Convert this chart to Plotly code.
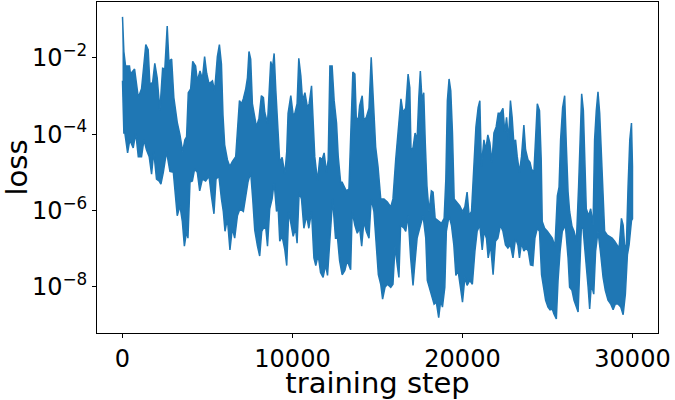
import plotly.graph_objects as go

upper_step = [0, 80, 180, 410, 470, 710, 930, 1120, 1370, 1510, 1610, 1770, 1900, 2040, 2200,
              2360, 2490, 2630, 2730, 2890, 3020, 3220, 3380, 3540, 3670, 3770, 3870, 4010, 4130,
              4300, 4400, 4560, 4700, 4830, 4950, 5090, 5290, 5420, 5580, 5700, 5820, 5910, 6010,
              6170, 6310, 6460, 6660, 6790, 6880, 7000, 7110, 7250, 7350, 7440, 7540, 7640, 7740,
              7880, 8030, 8170, 8290, 8370, 8530, 8650, 8720, 8820, 8920, 9020, 9150, 9250, 9390,
              9550, 9660, 9740, 9900, 10040, 10140, 10270, 10370, 10490, 10590, 10730, 10880,
              10980, 11120, 11210, 11310, 11470, 11610, 11740, 11860, 12000, 12100, 12200, 12330,
              12450, 12590, 12690, 12830, 12920, 13020, 13160, 13320, 13450, 13550, 13670, 13750,
              13870, 13950, 14100, 14200, 14340, 14500, 14630, 14750, 14890, 15030, 15190, 15380,
              15580, 15780, 15910, 16070, 16220, 16380, 16500, 16660, 16800, 16900, 16970, 17090,
              17210, 17330, 17430, 17520, 17620, 17720, 17810, 17910, 18030, 18170, 18270, 18390,
              18560, 18760, 18920, 19020, 19110, 19210, 19310, 19410, 19510, 19640, 19840, 20000,
              20140, 20270, 20390, 20530, 20680, 20790, 20920, 21020, 21110, 21260, 21370, 21490,
              21610, 21730, 21850, 21980, 22100, 22230, 22380, 22490, 22590, 22710, 22820, 22920,
              23020, 23120, 23220, 23350, 23470, 23610, 23710, 23850, 23970, 24060, 24200, 24300,
              24400, 24530, 24630, 24690, 24830, 24990, 25150, 25280, 25440, 25580, 25680, 25770,
              25890, 26010, 26110, 26210, 26300, 26440, 26560, 26700, 26830, 26930, 27010, 27110,
              27180, 27280, 27420, 27540, 27680, 27770, 27870, 27970, 28070, 28170, 28270, 28360,
              28520, 28660, 28800, 28950, 29090, 29210, 29350, 29450, 29540, 29640, 29740, 29840,
              29940, 29999]
upper_log = [-0.92, -1.83, -2.21, -2.21, -2.42, -2.29, -3.04, -2.81, -1.65, -1.78, -2.68, -2.65,
             -2.14, -2.52, -3.38, -2.27, -2.29, -1.16, -2.09, -2.03, -3.04, -3.69, -4.02, -4.46,
             -4.15, -4.07, -2.91, -2.81, -2.09, -2.21, -2.60, -2.34, -2.55, -1.96, -2.40, -2.68,
             -2.60, -2.86, -1.96, -1.65, -2.16, -3.50, -4.28, -4.67, -4.85, -4.72, -4.59, -3.81,
             -3.12, -3.20, -3.07, -2.81, -2.52, -1.83, -2.03, -3.20, -3.45, -3.81, -3.58, -2.99,
             -3.04, -3.43, -3.71, -2.78, -2.09, -2.27, -1.88, -2.86, -4.07, -4.74, -4.61, -5.05,
             -4.46, -3.45, -2.99, -3.50, -3.45, -3.20, -2.01, -2.47, -3.12, -2.91, -3.30, -3.20,
             -2.73, -3.45, -4.59, -5.23, -4.61, -4.67, -4.49, -5.00, -4.67, -2.21, -2.21, -3.12,
             -3.71, -4.59, -5.26, -5.26, -5.36, -5.49, -5.44, -3.45, -2.37, -2.42, -3.56, -3.63,
             -3.25, -2.99, -3.63, -3.56, -3.32, -1.98, -3.12, -4.33, -4.85, -5.70, -5.70, -5.78,
             -5.91, -5.70, -4.67, -3.97, -3.07, -3.43, -3.32, -2.42, -2.78, -4.41, -4.36, -3.97,
             -4.15, -3.04, -2.34, -3.12, -2.91, -4.23, -5.36, -6.03, -5.49, -5.52, -6.21, -6.27,
             -6.34, -6.21, -5.18, -3.12, -2.55, -2.86, -3.97, -5.70, -5.78, -5.88, -6.03, -5.91,
             -5.52, -6.14, -6.03, -4.85, -3.81, -3.30, -3.12, -4.85, -4.15, -4.41, -4.02, -4.23,
             -4.74, -3.97, -3.81, -3.45, -3.45, -3.32, -3.97, -3.56, -4.15, -3.12, -3.56, -4.23,
             -4.15, -4.59, -5.00, -4.59, -3.76, -4.41, -4.67, -4.74, -4.92, -5.00, -3.89, -3.20,
             -3.38, -4.67, -6.29, -6.47, -6.55, -6.65, -6.73, -6.94, -5.62, -5.39, -4.15, -3.30,
             -2.99, -4.33, -5.52, -6.03, -6.42, -6.55, -6.81, -5.36, -3.97, -2.94, -3.38, -4.41,
             -5.96, -6.14, -5.96, -6.39, -4.15, -3.38, -2.89, -3.45, -4.49, -5.70, -6.55, -6.65,
             -6.68, -6.73, -6.81, -6.91, -6.99, -6.21, -6.39, -6.94, -6.91, -5.36, -4.15, -3.71,
             -4.85]

lower_step = [0, 80, 140, 300, 430, 630, 780, 930, 1120, 1260, 1410, 1570, 1710, 1840, 2000,
              2160, 2260, 2400, 2590, 2790, 2990, 3140, 3220, 3380, 3520, 3640, 3770, 3850, 3970,
              4110, 4240, 4400, 4540, 4700, 4890, 5090, 5230, 5380, 5500, 5670, 5820, 5930, 6030,
              6170, 6320, 6460, 6600, 6760, 6910, 7110, 7250, 7380, 7540, 7660, 7780, 7940, 8070,
              8190, 8290, 8430, 8530, 8660, 8800, 8920, 9060, 9150, 9250, 9390, 9550, 9660, 9780,
              9900, 10040, 10180, 10270, 10390, 10530, 10670, 10830, 10960, 11120, 11260, 11370,
              11510, 11650, 11800, 11950, 12060, 12200, 12360, 12530, 12650, 12770, 12920, 13080,
              13220, 13420, 13510, 13670, 13810, 13950, 14070, 14200, 14340, 14500, 14630, 14790,
              14950, 15050, 15190, 15300, 15440, 15580, 15780, 15910, 16030, 16160, 16260, 16360,
              16560, 16660, 16800, 16950, 17090, 17190, 17330, 17480, 17680, 17840, 17930, 18070,
              18210, 18330, 18460, 18600, 18720, 18820, 18960, 19050, 19210, 19350, 19490, 19610,
              19740, 19880, 20000, 20140, 20270, 20430, 20580, 20730, 20860, 21020, 21160, 21270,
              21410, 21510, 21650, 21800, 21940, 22080, 22230, 22380, 22530, 22670, 22820, 22970,
              23120, 23260, 23350, 23470, 23610, 23750, 23870, 24000, 24140, 24260, 24400, 24530,
              24650, 24750, 24890, 25030, 25150, 25280, 25380, 25520, 25620, 25740, 25870, 26050,
              26210, 26300, 26440, 26560, 26700, 26800, 26890, 26990, 27090, 27230, 27390, 27480,
              27580, 27720, 27830, 27970, 28110, 28270, 28400, 28560, 28720, 28860, 28990, 29150,
              29310, 29450, 29580, 29700, 29800, 29940, 29999]
lower_log = [-2.60, -3.97, -3.97, -4.49, -4.15, -4.36, -3.97, -4.59, -4.59, -4.15, -4.41, -4.59,
             -5.05, -4.46, -5.18, -5.23, -5.31, -5.00, -4.46, -4.98, -5.00, -5.70, -6.14, -5.88,
             -6.29, -6.94, -6.55, -6.73, -5.26, -5.23, -4.92, -5.00, -5.49, -5.18, -5.23, -5.10,
             -5.62, -6.09, -5.18, -5.10, -5.70, -6.03, -6.55, -6.21, -7.04, -6.47, -6.73, -6.14,
             -5.96, -6.03, -5.62, -5.26, -5.00, -5.70, -6.52, -6.94, -7.20, -6.55, -6.47, -6.47,
             -6.94, -5.96, -5.70, -5.26, -6.03, -5.88, -6.81, -6.68, -7.04, -7.45, -6.03, -6.29,
             -6.68, -6.47, -6.86, -5.52, -5.70, -6.47, -6.14, -6.47, -6.03, -7.25, -7.45, -7.17,
             -7.63, -7.76, -7.43, -7.71, -6.73, -5.70, -6.73, -6.73, -7.32, -7.69, -7.58, -7.32,
             -7.56, -6.03, -6.39, -6.60, -6.47, -6.94, -6.29, -6.55, -6.73, -5.70, -6.03, -6.94,
             -7.69, -7.94, -8.33, -8.02, -7.94, -8.02, -7.94, -6.94, -7.43, -7.76, -6.39, -6.47,
             -6.55, -6.14, -7.25, -7.97, -7.43, -6.73, -6.47, -6.14, -6.73, -7.84, -8.10, -8.28,
             -8.46, -8.41, -8.82, -8.36, -8.54, -8.02, -6.55, -6.14, -6.39, -6.91, -7.71, -7.58,
             -8.02, -8.41, -7.76, -7.97, -7.84, -7.94, -7.07, -6.55, -6.39, -7.04, -6.55, -6.73,
             -7.25, -6.91, -7.69, -6.81, -6.73, -6.39, -6.55, -6.91, -6.99, -6.91, -7.25, -6.73,
             -6.91, -7.25, -6.86, -7.07, -6.99, -7.07, -7.43, -7.45, -6.73, -6.47, -6.55, -7.69,
             -8.02, -8.36, -8.54, -8.61, -8.59, -8.72, -8.85, -7.84, -7.07, -6.55, -6.39, -7.25,
             -8.02, -8.10, -8.36, -8.54, -8.67, -7.76, -6.47, -6.47, -7.25, -8.02, -8.59, -7.94,
             -8.20, -7.07, -6.55, -7.07, -7.76, -8.10, -8.36, -8.46, -8.61, -8.46, -8.46, -8.54,
             -8.74, -8.20, -7.17, -6.91, -6.27, -6.22]

xtick_vals = [0, 10000, 20000, 30000]
xtick_text = ['0', '10000', '20000', '30000']
ytick_vals = [1e-2, 1e-4, 1e-6, 1e-8]
ytick_text = ['10<sup>\u22122</sup>', '10<sup>\u22124</sup>', '10<sup>\u22126</sup>', '10<sup>\u22128</sup>']

xs = upper_step + lower_step[::-1]
ys = [10 ** v for v in upper_log + lower_log[::-1]]

fig = go.Figure()
fig.add_trace(go.Scatter(x=xs, y=ys, mode='lines', fill='toself',
                         fillcolor='#1f77b4',
                         line=dict(color='#1f77b4', width=1.5),
                         hoverinfo='skip', showlegend=False))

fig.update_layout(
    width=675, height=400,
    margin=dict(l=97, r=17, t=1, b=63),
    plot_bgcolor='white', paper_bgcolor='white',
    font=dict(family='DejaVu Sans', size=24, color='black'),
    showlegend=False,
)
fig.update_xaxes(
    range=[-1500, 31500],
    tickvals=xtick_vals, ticktext=xtick_text,
    ticks='outside', ticklen=4, tickwidth=1, tickcolor='black',
    showline=True, mirror=True, linecolor='black', linewidth=1,
    showgrid=False, zeroline=False,
    title=dict(text='training step', standoff=6),
)
fig.update_yaxes(
    type='log', range=[-9.22, -0.53],
    tickvals=ytick_vals, ticktext=ytick_text,
    ticks='outside', ticklen=4, tickwidth=1, tickcolor='black',
    showline=True, mirror=True, linecolor='black', linewidth=1,
    showgrid=False, zeroline=False,
    title=dict(text='loss', standoff=10),
)

fig.write_html("out.html", config={'displayModeBar': False},
               post_script="document.body.style.margin='0';")
